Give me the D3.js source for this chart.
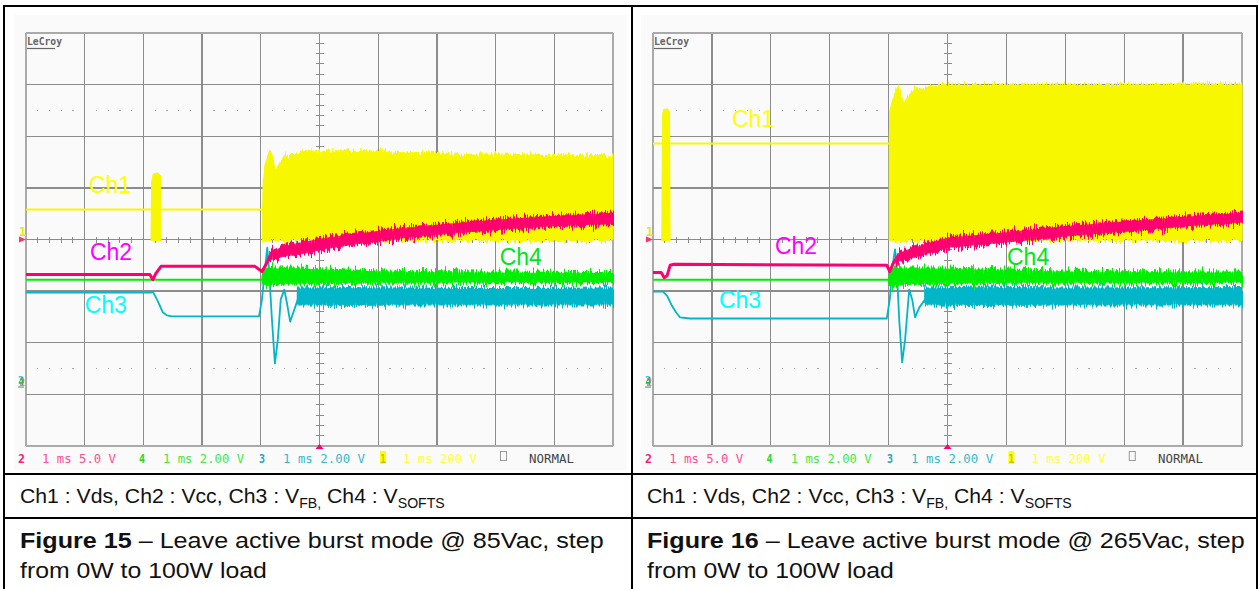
<!DOCTYPE html>
<html>
<head>
<meta charset="utf-8">
<script src="https://cdn.jsdelivr.net/npm/d3@7"></script>
<style>
	body { margin: 0; background: #fff; }
	svg { display: block; }
</style>
</head>
<body>
<div id="chart"></div>
<script>
// Scope grids: 10 time divisions (1 ms each), 8 vertical divisions
const gridCols = d3.range(0, 11);
const gridRows = d3.range(-4, 5);
const dotRows = [2.5, -2.5];

const channelNames = ['Ch1', 'Ch2', 'Ch3', 'Ch4'];
const statusLabels = ['2', '1 ms 5.0 V', '4', '1 ms 2.00 V', '3', '1 ms 2.00 V', '1', '1 ms 200 V', '', 'NORMAL'];
const legendParts = ['Ch1 : Vds, Ch2 : Vcc, Ch3 : V', 'FB,', ' Ch4 : V', 'SOFTS'];
const fig15Caption = ['Figure 15', ' \u2013 Leave active burst mode @ 85Vac, step', 'from 0W to 100W load'];
const fig16Caption = ['Figure 16', ' \u2013 Leave active burst mode @ 265Vac, step', 'from 0W to 100W load'];

// values are [ms, divisions from centre]; bands are [ms, upper, lower]
// ---------- Figure 15 (85Vac)
const fig15Ch1Floor = -0.02;
const fig15Ch1Line = [[0, 0.58], [4.03, 0.58]];
const fig15Ch1Burst = [[2.13, -0.02], [2.14, 1.12], [2.17, 1.27], [2.24, 1.29], [2.29, 1.24], [2.30, -0.02]];
const fig15Ch1Block = [[4.03, 0.58], [4.04, 1.10], [4.07, 1.40], [4.12, 1.65], [4.17, 1.74], [4.21, 1.59], [4.26, 1.26],
	[4.29, 1.40], [4.34, 1.55], [4.41, 1.65], [4.46, 1.56], [4.53, 1.66], [4.67, 1.69], [4.84, 1.72], [5.01, 1.70],
	[5.35, 1.73], [5.69, 1.70], [6.03, 1.72], [6.37, 1.68], [6.88, 1.69], [7.39, 1.65], [8.07, 1.66], [8.76, 1.63],
	[9.44, 1.62], [10, 1.62]];
const fig15Ch2Line = [[0, -0.68], [2.11, -0.68], [2.16, -0.78], [2.21, -0.66], [2.30, -0.52], [3.90, -0.52],
	[4.02, -0.62], [4.09, -0.48], [4.16, -0.31]];
const fig15Ch2Band = [[4.16, -0.24, -0.40], [4.41, -0.12, -0.33], [4.67, -0.06, -0.29], [5.10, 0.03, -0.19],
	[5.52, 0.10, -0.11], [6.37, 0.22, 0.02], [7.22, 0.31, 0.11], [8.07, 0.39, 0.19], [8.93, 0.45, 0.25], [10, 0.52, 0.30]];
const fig15Ch3Line = [[0, -1.03], [2.13, -1.03], [2.16, -1.01], [2.23, -1.16], [2.28, -1.28], [2.33, -1.41],
	[2.40, -1.47], [2.49, -1.49], [3.97, -1.49], [4.02, -1.16], [4.07, -0.58], [4.11, -0.16], [4.14, -0.58],
	[4.19, -1.55], [4.24, -2.40], [4.29, -1.94], [4.34, -1.16], [4.40, -0.97], [4.45, -1.26], [4.50, -1.59],
	[4.57, -1.36], [4.63, -1.16]];
const fig15Ch3Band = [[4.63, -0.95, -1.26], [5.5, -0.94, -1.27], [6.5, -0.95, -1.26], [8, -0.96, -1.26], [10, -0.95, -1.26]];
const fig15Ch4Line = [[0, -0.78], [4.03, -0.78]];
const fig15Ch4Band = [[4.03, -0.70, -0.86], [4.10, -0.54, -0.88], [4.25, -0.56, -0.86], [4.67, -0.56, -0.85],
	[5.5, -0.60, -0.84], [6.5, -0.63, -0.84], [8, -0.64, -0.83], [10, -0.65, -0.83]];

// ---------- Figure 16 (265Vac)
const fig16Ch1Floor = -0.02;
const fig16Ch1Line = [[0, 1.86], [4.01, 1.86]];
const fig16Ch1Burst = [[0.15, -0.02], [0.16, 2.40], [0.18, 2.52], [0.25, 2.53], [0.28, 2.46], [0.29, -0.02]];
const fig16Ch1Block = [[4.01, 1.86], [4.02, 2.48], [4.07, 2.71], [4.13, 2.91], [4.16, 3.00], [4.21, 2.81], [4.26, 2.64],
	[4.33, 2.77], [4.40, 2.87], [4.47, 2.95], [4.57, 2.91], [4.70, 2.98], [4.96, 3.01], [5.5, 3.00], [6.5, 3.01],
	[7.5, 3.00], [8.5, 3.01], [10, 3.01]];
const fig16Ch2Line = [[0, -0.64], [0.14, -0.64], [0.19, -0.74], [0.24, -0.70], [0.29, -0.50], [0.36, -0.48],
	[3.97, -0.50], [4.02, -0.62], [4.07, -0.48], [4.14, -0.35]];
const fig16Ch2Band = [[4.14, -0.27, -0.43], [4.36, -0.18, -0.38], [5.01, 0.04, -0.16], [6.01, 0.14, -0.06],
	[7.01, 0.26, 0.06], [8.0, 0.35, 0.15], [9.0, 0.44, 0.25], [10, 0.52, 0.33]];
const fig16Ch3Line = [[0, -1.01], [0.17, -1.01], [0.24, -1.09], [0.32, -1.28], [0.39, -1.41], [0.46, -1.51],
	[0.63, -1.53], [3.97, -1.53], [4.02, -1.16], [4.07, -0.48], [4.11, -0.19], [4.14, -0.58], [4.18, -1.55],
	[4.23, -2.38], [4.28, -1.94], [4.35, -0.97], [4.40, -1.16], [4.45, -1.51], [4.52, -1.32], [4.62, -1.16]];
const fig16Ch3Band = [[4.62, -0.95, -1.26], [5.5, -0.93, -1.27], [7, -0.95, -1.26], [10, -0.94, -1.26]];
const fig16Ch4Line = [[0, -0.78], [4.01, -0.78]];
const fig16Ch4Band = [[4.01, -0.70, -0.88], [4.08, -0.54, -0.90], [4.25, -0.56, -0.86], [5, -0.56, -0.85],
	[6, -0.60, -0.84], [7.5, -0.63, -0.84], [10, -0.64, -0.83]];

// ----------------------------------
// LAYOUT
// ----------------------------------
const width = 1259, height = 589;
const frame = {top: 33, bottom: 446};
const traceColors = {ch1: '#f7f700', ch2: '#ff0070', ch3: '#00b6c8', ch4: '#00ee00'};
const labelColors = ['#ffff00', '#ff00ff', '#00ffff', '#00e61a'];
const statusColors = ['#ff1a75', '#ff4d94', '#22d822', '#44e844', '#1ea8cc', '#33bbd0', '#c8c800', '#ffff33', '#999', '#444'];
const statusSlots = [-8, 16, 113, 137, 233, 257, 354, 377, 474, 503];
const statusWidths = [7, 74, 6, 81, 6, 82, 6, 74, 0, 45];

const svg = d3.select('#chart').append('svg')
	.attr('width', width)
	.attr('height', height);

// vertical jitter filter, so the switching bands look like sampled noise
const defs = svg.append('defs');
function addJitter(id, freq, amount, seed) {
	const f = defs.append('filter').attr('id', id)
		.attr('filterUnits', 'userSpaceOnUse')
		.attr('x', 0).attr('y', 0).attr('width', width).attr('height', height)
		.attr('color-interpolation-filters', 'sRGB');
	f.append('feTurbulence').attr('type', 'fractalNoise')
		.attr('baseFrequency', `${freq} 0.01`).attr('numOctaves', 2).attr('seed', seed).attr('result', 'n');
	f.append('feColorMatrix').attr('in', 'n').attr('type', 'matrix')
		.attr('values', '1 0 0 0 0  0 0 0 0 0.5  0 0 0 0 0  0 0 0 0 1').attr('result', 'm');
	f.append('feDisplacementMap').attr('in', 'SourceGraphic').attr('in2', 'm')
		.attr('scale', amount).attr('xChannelSelector', 'G').attr('yChannelSelector', 'R');
}
addJitter('jitterBand', 0.9, 16, 3);
addJitter('jitterTop', 0.7, 10, 7);

function fitWidth(sel, x0, target) {
	const w = sel.node().getComputedTextLength();
	sel.attr('transform', `translate(${x0},0) scale(${target / w},1) translate(${-x0},0)`);
}

function drawScope(opts) {
	const x = d3.scaleLinear().domain([0, 10]).range([opts.left, opts.right]);
	const y = d3.scaleLinear().domain([-4, 4]).range([frame.bottom, frame.top]);
	const g = svg.append('g');

	// faint screen background
	g.append('rect')
		.attr('x', opts.left - 12).attr('y', 15)
		.attr('width', opts.right - opts.left + 26).attr('height', 455)
		.style('fill', '#fafafa');

	// ---------- grid
	const grid = g.append('g').attr('shape-rendering', 'crispEdges');
	grid.selectAll('line.v').data(gridCols).join('line')
		.attr('class', 'v')
		.attr('x1', d => x(d)).attr('x2', d => x(d))
		.attr('y1', y(-4)).attr('y2', y(4))
		.style('stroke', d => (d === 0 || d === 10) ? '#aaa' : '#8c8c8c')
		.style('stroke-width', d => (d === 0 || d === 10) ? 2 : 1.3);
	grid.selectAll('line.h').data(gridRows).join('line')
		.attr('class', 'h')
		.attr('x1', x(0)).attr('x2', x(10))
		.attr('y1', d => y(d)).attr('y2', d => y(d))
		.style('stroke', d => (d === -4 || d === 4) ? '#aaa' : '#8c8c8c')
		.style('stroke-width', d => (d === -4 || d === 4) ? 2 : 1.3);

	// minor ticks on the centre cross
	const minorX = d3.range(0, 50).map(i => i / 5).filter(t => t % 1 !== 0);
	const minorY = d3.range(-20, 20).map(i => i / 5).filter(v => v % 1 !== 0);
	grid.selectAll('line.tx').data(minorX).join('line')
		.attr('x1', d => x(d)).attr('x2', d => x(d))
		.attr('y1', y(0) - 3).attr('y2', y(0) + 3)
		.style('stroke', '#8c8c8c');
	grid.selectAll('line.ty').data(minorY).join('line')
		.attr('x1', x(5) - 4).attr('x2', x(5) + 4)
		.attr('y1', d => y(d)).attr('y2', d => y(d))
		.style('stroke', '#8c8c8c');
	dotRows.forEach(v => {
		grid.append('g').selectAll('rect').data(minorX).join('rect')
			.attr('x', d => x(d) - 0.5).attr('y', y(v) - 0.5)
			.attr('width', 1.2).attr('height', 1.2)
			.style('fill', '#aaa');
	});

	// LeCroy badge
	g.append('text')
		.text('LeCroy')
		.attr('x', x(0) + 1).attr('y', frame.top + 12)
		.style('font-family', 'DejaVu Sans Mono, monospace')
		.style('font-size', '10px').style('font-weight', 'bold')
		.style('fill', '#666')
		.attr('textLength', 35).attr('lengthAdjust', 'spacingAndGlyphs');
	g.append('line')
		.attr('x1', x(0) + 1).attr('x2', x(0) + 29)
		.attr('y1', frame.top + 15.5).attr('y2', frame.top + 15.5)
		.style('stroke', '#666').style('stroke-width', 1.2);

	// ---------- traces
	const line = d3.line().x(d => x(d[0])).y(d => y(d[1]));
	const band = d3.area().x(d => x(d[0])).y0(d => y(d[2])).y1(d => y(d[1]));
	const floorArea = d3.area().x(d => x(d[0])).y0(y(opts.ch1Floor)).y1(d => y(d[1]));
	const traces = g.append('g');

	traces.append('path').datum(opts.ch1Line).attr('d', line)
		.style('fill', 'none').style('stroke', traceColors.ch1).style('stroke-width', 2);
	traces.append('path').datum(opts.ch1Burst).attr('d', floorArea)
		.style('fill', traceColors.ch1).style('stroke', traceColors.ch1).style('stroke-width', 1);
	traces.append('g').attr('filter', 'url(#jitterTop)')
		.append('path').datum(opts.ch1Block).attr('d', floorArea)
		.style('fill', traceColors.ch1).style('stroke', traceColors.ch1).style('stroke-width', 1);

	const channel = (lineData, bandData, color, lw) => {
		traces.append('path').datum(lineData).attr('d', line)
			.style('fill', 'none').style('stroke', color).style('stroke-width', lw)
			.style('stroke-linejoin', 'round');
		const jit = traces.append('g').attr('filter', 'url(#jitterBand)');
		jit.append('path').datum(bandData).attr('d', band)
			.style('fill', color).style('stroke', color).style('stroke-width', 2);
		// solid core so the band keeps its body
		traces.append('path').datum(bandData).attr('d', band)
			.attr('transform', 'translate(0,0)')
			.style('fill', color).style('stroke', 'none')
			.style('opacity', 0.85)
			.attr('clip-path', null);
	};
	channel(opts.ch3Line, opts.ch3Band, traceColors.ch3, 1.8);
	channel(opts.ch4Line, opts.ch4Band, traceColors.ch4, 2);
	channel(opts.ch2Line, opts.ch2Band, traceColors.ch2, 3);

	// ---------- channel labels
	g.selectAll('text.ch').data(channelNames).join('text')
		.attr('class', 'ch')
		.text(d => d)
		.attr('x', (d, i) => x(opts.labelAt[i][0]))
		.attr('y', (d, i) => y(opts.labelAt[i][1]))
		.style('font-family', 'Liberation Sans, Arial, sans-serif')
		.style('font-size', '23px')
		.style('fill', (d, i) => labelColors[i]);

	// ---------- side markers
	g.append('text').text('1')
		.attr('x', x(0) - 7).attr('y', y(0) - 4)
		.style('font-family', 'DejaVu Sans Mono, monospace').style('font-size', '12px').style('font-weight', 'bold')
		.style('fill', '#e8e800');
	g.append('path')
		.attr('d', `M${x(0) - 7},${y(0) - 3}L${x(0)},${y(0)}L${x(0) - 7},${y(0) + 3}Z`)
		.style('fill', '#ff3366');
	['3', '4', '2'].forEach((s, i) => {
		g.append('text').text(s)
			.attr('x', x(0) - 8 + i * 0.6).attr('y', y(-2.8) + i * 0.8)
			.style('font-family', 'DejaVu Sans Mono, monospace').style('font-size', '10px').style('font-weight', 'bold')
			.style('fill', [traceColors.ch3, '#00c800', '#cc66aa'][i]).style('opacity', 0.8);
	});
	g.append('line')
		.attr('x1', x(0) - 8).attr('x2', x(0) - 2)
		.attr('y1', y(-2.8) + 3).attr('y2', y(-2.8) + 3)
		.style('stroke', '#339966');

	// trigger position
	g.append('path')
		.attr('d', `M${x(5) - 4},${frame.bottom + 3}L${x(5)},${frame.bottom - 2}L${x(5) + 4},${frame.bottom + 3}Z`)
		.style('fill', '#ff0070');

	// ---------- status line
	const status = g.append('g');
	statusLabels.forEach((s, i) => {
		const sx = x(0) + statusSlots[i] + opts.statusShift * (i / 9);
		if (i === 6) {
			status.append('rect')
				.attr('x', sx).attr('y', 451).attr('width', 6).attr('height', 13)
				.style('fill', '#ffff00');
		}
		if (i === 8) {
			status.append('rect')
				.attr('x', sx + 0.5).attr('y', 451.5).attr('width', 6).attr('height', 9)
				.style('fill', 'none').style('stroke', '#999');
			return;
		}
		status.append('text')
			.text(s)
			.attr('x', sx).attr('y', 463)
			.attr('textLength', statusWidths[i]).attr('lengthAdjust', 'spacingAndGlyphs')
			.style('font-family', 'DejaVu Sans Mono, monospace')
			.style('font-size', '13px')
			.style('font-weight', (i % 2 === 0) ? 'bold' : 'normal')
			.style('fill', statusColors[i]);
	});

	// ---------- captions
	const legend = g.append('text')
		.attr('x', opts.textX).attr('y', 503)
		.style('font-family', 'Liberation Sans, Arial, sans-serif')
		.style('font-size', '21px').style('fill', '#111');
	legendParts.forEach((s, i) => {
		legend.append('tspan').text(s)
			.style('font-size', i % 2 ? '14px' : '21px')
			.attr('dy', i === 0 ? 0 : (i % 2 ? 5 : -5));
	});
	fitWidth(legend, opts.textX, opts.legendWidth);

	const cap = g.append('text')
		.attr('x', opts.textX).attr('y', 548)
		.style('font-family', 'Liberation Sans, Arial, sans-serif')
		.style('font-size', '22px').style('fill', '#111');
	cap.append('tspan').text(opts.caption[0]).style('font-weight', 'bold');
	cap.append('tspan').text(opts.caption[1]);
	fitWidth(cap, opts.textX, opts.captionWidth);
	const cap2 = g.append('text')
		.text(opts.caption[2])
		.attr('x', opts.textX).attr('y', 578)
		.style('font-family', 'Liberation Sans, Arial, sans-serif')
		.style('font-size', '22px').style('fill', '#111');
	fitWidth(cap2, opts.textX, 247);
}

drawScope({
	left: 26, right: 613, textX: 20, statusShift: 0, caption: fig15Caption,
	legendWidth: 425, captionWidth: 584,
	ch1Floor: fig15Ch1Floor, ch1Line: fig15Ch1Line, ch1Burst: fig15Ch1Burst, ch1Block: fig15Ch1Block,
	ch2Line: fig15Ch2Line, ch2Band: fig15Ch2Band, ch3Line: fig15Ch3Line, ch3Band: fig15Ch3Band,
	ch4Line: fig15Ch4Line, ch4Band: fig15Ch4Band,
	labelAt: [[1.07, 0.91], [1.09, -0.39], [1.00, -1.42], [8.07, -0.50]]
});
drawScope({
	left: 653, right: 1242, textX: 647, statusShift: 2, caption: fig16Caption,
	legendWidth: 425, captionWidth: 598,
	ch1Floor: fig16Ch1Floor, ch1Line: fig16Ch1Line, ch1Burst: fig16Ch1Burst, ch1Block: fig16Ch1Block,
	ch2Line: fig16Ch2Line, ch2Band: fig16Ch2Band, ch3Line: fig16Ch3Line, ch3Band: fig16Ch3Band,
	ch4Line: fig16Ch4Line, ch4Band: fig16Ch4Band,
	labelAt: [[1.34, 2.17], [2.07, -0.29], [1.12, -1.32], [6.01, -0.50]]
});

// ----------------------------------
// TABLE RULES
// ----------------------------------
const rules = svg.append('g').style('stroke', '#000').style('stroke-width', 2).attr('shape-rendering', 'crispEdges');
rules.append('line').attr('x1', 3).attr('x2', 1258).attr('y1', 6).attr('y2', 6);
rules.append('line').attr('x1', 3).attr('x2', 1258).attr('y1', 474).attr('y2', 474);
rules.append('line').attr('x1', 3).attr('x2', 1258).attr('y1', 518).attr('y2', 518);
rules.append('line').attr('x1', 4).attr('x2', 4).attr('y1', 5).attr('y2', 589);
rules.append('line').attr('x1', 632).attr('x2', 632).attr('y1', 5).attr('y2', 589);
rules.append('line').attr('x1', 1257).attr('x2', 1257).attr('y1', 5).attr('y2', 589);
</script>
</body>
</html>
